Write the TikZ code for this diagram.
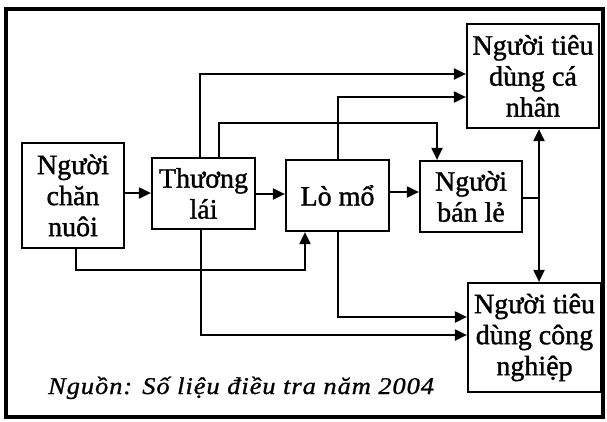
\documentclass[tikz,border=0pt]{standalone}
\usepackage{fontspec}
\setmainfont{Liberation Serif}[FakeBold=1.2]
\newfontfamily\capfont{Liberation Serif}[LetterSpace=4,FakeStretch=1.1,FakeBold=1]
\usetikzlibrary{arrows.meta}
\begin{document}
\begin{tikzpicture}[x=1pt,y=-1pt,
  box/.style={draw,line width=2.2pt,align=center,inner sep=0pt,
    font=\fontsize{28}{31}\selectfont},
  conn/.style={line width=2pt},
  arr/.style={conn,-{Triangle[length=12pt,width=11pt]}}]
\useasboundingbox (0,0) rectangle (607,421);
\draw[line width=3.5pt] (6,9) rectangle (603,417);
\node[box,minimum width=102pt,minimum height=105pt] (cn) at (73,195.5) {Người\\chăn\\nuôi};
\node[box,minimum width=103pt,minimum height=71pt] (tl) at (203.5,193.5) {Thương\\lái};
\node[box,minimum width=103pt,minimum height=71pt] (lm) at (337.5,195.5) {Lò mổ};
\node[box,minimum width=102pt,minimum height=71pt] (bl) at (471,196.5) {Người\\bán lẻ};
\node[box,minimum width=132pt,minimum height=104pt] (cnh) at (533,76) {Người tiêu\\dùng cá\\nhân};
\node[box,minimum width=133pt,minimum height=109pt] (cng) at (534.5,337.5) {Người tiêu\\dùng công\\nghiệp};
\node[anchor=base west,inner sep=0pt,font=\capfont\fontsize{24}{28}\selectfont\itshape] (src) at (48,394) {Nguồn: Số liệu điều tra năm 2004};
% main chain
\draw[arr] (cn.east |- 0,193) -- (tl.west |- 0,193);
\draw[arr] (tl.east |- 0,194) -- (lm.west |- 0,194);
\draw[arr] (lm.east |- 0,192) -- (bl.west |- 0,192);
% retailer to consumers
\coordinate (j) at (539,198);
\draw[conn] (bl.east |- j) -- (j);
\draw[arr] (j) -- (j |- cnh.south);
\draw[arr] (j) -- (j |- cng.north);
% top routes
\draw[arr] (tl.north -| 200,0) |- (cnh.west |- 0,74);
\draw[arr] (tl.north -| 219,0) |- (437,123) -- (bl.north -| 437,0);
\draw[arr] (lm.north -| 338,0) |- (cnh.west |- 0,97);
% bottom routes
\draw[arr] (cn.south -| 76,0) |- (305,270) -- (lm.south -| 305,0);
\draw[arr] (tl.south -| 201,0) |- (cng.west |- 0,335);
\draw[arr] (lm.south -| 338,0) |- (cng.west |- 0,317);
\end{tikzpicture}
\end{document}
